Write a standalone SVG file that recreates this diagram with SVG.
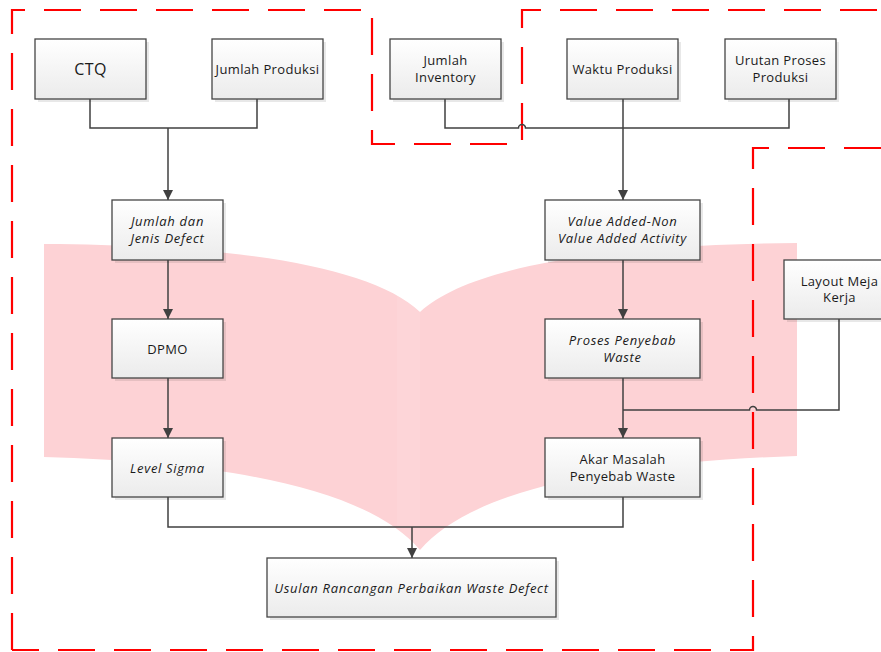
<svg xmlns="http://www.w3.org/2000/svg" width="881" height="652" viewBox="0 0 881 652">
<style>
.box{fill:url(#g);stroke:#454545;stroke-width:1.3}
.sh{fill:#000;opacity:0.09}
.t{font-family:"Open Sans","Noto Sans",sans-serif;font-size:13px;fill:#1a1a1a;text-anchor:middle;letter-spacing:0.35px}
.i{font-style:italic;letter-spacing:0.7px}
.c{fill:none;stroke:#404040;stroke-width:1.5}
.red{fill:none;stroke:#ff0000;stroke-width:2.2;stroke-dasharray:37 19}
</style>
<defs>
<linearGradient id="g" x1="0" y1="0" x2="0" y2="1">
<stop offset="0" stop-color="#ffffff"/>
<stop offset="1" stop-color="#ebebeb"/>
</linearGradient>
<marker id="a" markerUnits="userSpaceOnUse" markerWidth="10" markerHeight="10" refX="10" refY="5" orient="auto">
<path d="M0,0 L10,5 L0,10 z" fill="#404040"/>
</marker>
<clipPath id="pc"><path d="M44,244 C230,245 370,265 420,312 C471,265 611,245 797,243 L797,456 C611,462 471,490 420,550 C370,490 230,462 44,457 Z"/></clipPath>
</defs>
<rect width="881" height="652" fill="#ffffff"/>
<g id="backdrop">
<path d="M44,244 C230,245 370,265 420,312 C471,265 611,245 797,243 L797,456 C611,462 471,490 420,550 C370,490 230,462 44,457 Z" fill="#fdd2d5"/>
<rect x="397" y="230" width="23" height="330" fill="#ffffff" opacity="0.07" clip-path="url(#pc)"/>
</g>
<g id="regions">
<path class="red" d="M12,650 L12,10 L372,10 L372,144 L522,144 L522,10 L881,10"/>
<path class="red" d="M881,148 L753,148 L753,650 L12,650"/>
</g>
<g id="connectors">
<path class="c" d="M90,99 V128 H257 V99"/>
<path class="c" d="M168,128 V200" marker-end="url(#a)"/>
<path class="c" d="M445,99 V128 H518.5 A3.5,3.5 0 0 1 525.5,128 H789 V99"/>
<path class="c" d="M623,99 V200" marker-end="url(#a)"/>
<path class="c" d="M168,260 V319" marker-end="url(#a)"/>
<path class="c" d="M168,378 V438" marker-end="url(#a)"/>
<path class="c" d="M623,260 V319" marker-end="url(#a)"/>
<path class="c" d="M623,378 V438" marker-end="url(#a)"/>
<path class="c" d="M839,319 V410 H756.5 A3.5,3.5 0 0 0 749.5,410 H623"/>
<path class="c" d="M168,497 V527 H623 V497"/>
<path class="c" d="M412,527 V558" marker-end="url(#a)"/>
</g>
<g id="ctq"><rect class="sh" x="38" y="42" width="111" height="60"/><rect class="box" x="35" y="39" width="111" height="60"/><text class="t" x="90.5" y="75" style="font-size:16px">CTQ</text></g>
<g id="jumlah-produksi"><rect class="sh" x="215" y="42" width="111" height="60"/><rect class="box" x="212" y="39" width="111" height="60"/><text class="t" x="267.5" y="73.5">Jumlah Produksi</text></g>
<g id="jumlah-inventory"><rect class="sh" x="393" y="42" width="111" height="60"/><rect class="box" x="390" y="39" width="111" height="60"/><text class="t" x="445.5" y="65">Jumlah</text><text class="t" x="445.5" y="82">Inventory</text></g>
<g id="waktu-produksi"><rect class="sh" x="570" y="42" width="111" height="60"/><rect class="box" x="567" y="39" width="111" height="60"/><text class="t" x="622.5" y="73.5">Waktu Produksi</text></g>
<g id="urutan-proses"><rect class="sh" x="728" y="42" width="111" height="60"/><rect class="box" x="725" y="39" width="111" height="60"/><text class="t" x="780.5" y="65">Urutan Proses</text><text class="t" x="780.5" y="82">Produksi</text></g>
<g id="jumlah-jenis-defect"><rect class="sh" x="115" y="203" width="111" height="60"/><rect class="box" x="112" y="200" width="111" height="60"/><text class="t i" x="167.5" y="226">Jumlah dan</text><text class="t i" x="167.5" y="243">Jenis Defect</text></g>
<g id="value-added"><rect class="sh" x="548" y="203" width="155" height="60"/><rect class="box" x="545" y="200" width="155" height="60"/><text class="t i" x="622.5" y="226">Value Added-Non</text><text class="t i" x="622.5" y="243">Value Added Activity</text></g>
<g id="layout-meja"><rect class="sh" x="787" y="263" width="111" height="59"/><rect class="box" x="784" y="260" width="111" height="59"/><text class="t" x="839.5" y="285.5">Layout Meja</text><text class="t" x="839.5" y="302">Kerja</text></g>
<g id="dpmo"><rect class="sh" x="115" y="322" width="111" height="59"/><rect class="box" x="112" y="319" width="111" height="59"/><text class="t" x="167.5" y="353.5">DPMO</text></g>
<g id="proses-penyebab"><rect class="sh" x="548" y="322" width="155" height="59"/><rect class="box" x="545" y="319" width="155" height="59"/><text class="t i" x="622.5" y="345">Proses Penyebab</text><text class="t i" x="622.5" y="362">Waste</text></g>
<g id="level-sigma"><rect class="sh" x="115" y="441" width="111" height="59"/><rect class="box" x="112" y="438" width="111" height="59"/><text class="t i" x="167.5" y="473">Level Sigma</text></g>
<g id="akar-masalah"><rect class="sh" x="548" y="441" width="155" height="59"/><rect class="box" x="545" y="438" width="155" height="59"/><text class="t" x="622.5" y="464">Akar Masalah</text><text class="t" x="622.5" y="481">Penyebab Waste</text></g>
<g id="usulan"><rect class="sh" x="270" y="561" width="289" height="59"/><rect class="box" x="267" y="558" width="289" height="59"/><text class="t i" x="411.5" y="593">Usulan Rancangan Perbaikan Waste Defect</text></g>
</svg>
